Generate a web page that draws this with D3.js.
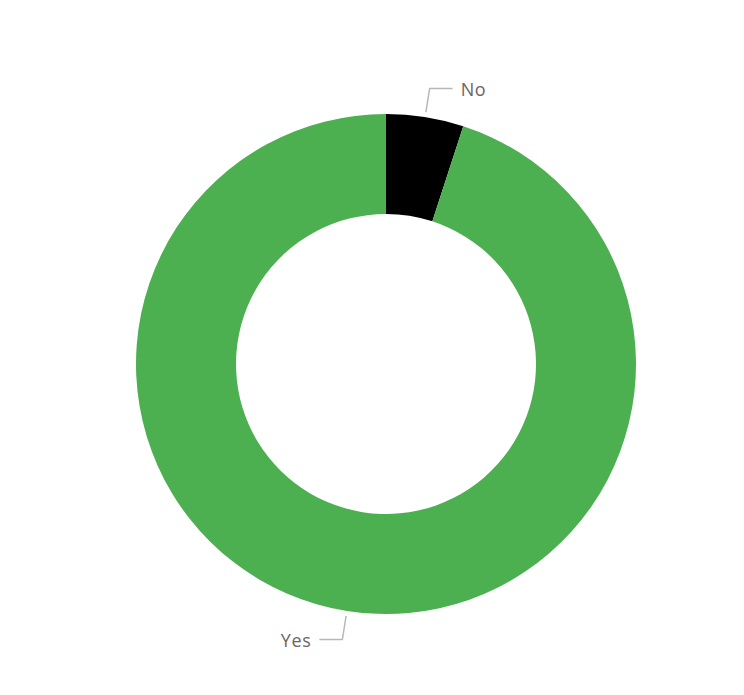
<!DOCTYPE html>
<html>
<head>
<meta charset="utf-8">
<script src="https://cdn.jsdelivr.net/npm/d3@7"></script>
<style>
  body { margin: 0; background: #fff; }
  svg { display: block; }
</style>
</head>
<body>
<svg id="chart" width="744" height="695"></svg>
<script>
// answers and their share of responses
var categories = ["No", "Yes"]
var values = [5, 95]
var colors = ["#000000", "#4CAF50"]

var width = 744, height = 695
var cx = 386, cy = 364
var outerR = 250, innerR = 150

var svg = d3.select("#chart")
var g = svg.append("g")
  .attr("transform", "translate(" + cx + "," + cy + ")")

var data = categories.map(function(c, i){ return { name: c, value: values[i], color: colors[i] } })

var pie = d3.pie()
  .sort(null)
  .value(function(d){ return d.value })

var arc = d3.arc()
  .innerRadius(innerR)
  .outerRadius(outerR)

var arcs = pie(data)

g.selectAll("path.slice")
    .data(arcs)
    .enter()
  .append("path")
    .attr("class", "slice")
    .attr("d", arc)
    .attr("fill", function(d){ return d.data.color })

// leader lines: start just outside the ring, bend, then run horizontally
var startArc = d3.arc().innerRadius(255).outerRadius(255)
var bendArc = d3.arc().innerRadius(279).outerRadius(279)
var tail = 23

var midAngle = function(d){ return (d.startAngle + d.endAngle) / 2 }

g.selectAll("polyline.leader")
    .data(arcs)
    .enter()
  .append("polyline")
    .attr("class", "leader")
    .attr("points", function(d){
      var p0 = startArc.centroid(d)
      var p1 = bendArc.centroid(d)
      var dir = midAngle(d) < Math.PI ? 1 : -1
      var p2 = [p1[0] + dir * tail, p1[1]]
      return [p0, p1, p2].map(function(p){ return p.join(",") }).join(" ")
    })
    .attr("fill", "none")
    .attr("stroke", "#b8b8b8")
    .attr("stroke-width", 1.5)

g.selectAll("text.label")
    .data(arcs)
    .enter()
  .append("text")
    .attr("class", "label")
    .attr("x", function(d){
      var p1 = bendArc.centroid(d)
      var dir = midAngle(d) < Math.PI ? 1 : -1
      return p1[0] + dir * (tail + 8)
    })
    .attr("y", function(d){ return bendArc.centroid(d)[1] })
    .attr("dy", "0.42em")
    .attr("text-anchor", function(d){ return midAngle(d) < Math.PI ? "start" : "end" })
    .attr("font-family", "'Open Sans', sans-serif")
    .attr("font-size", 18)
    .attr("letter-spacing", 0.6)
    .attr("fill", "#6b6560")
    .text(function(d){ return d.data.name })
</script>
</body>
</html>
